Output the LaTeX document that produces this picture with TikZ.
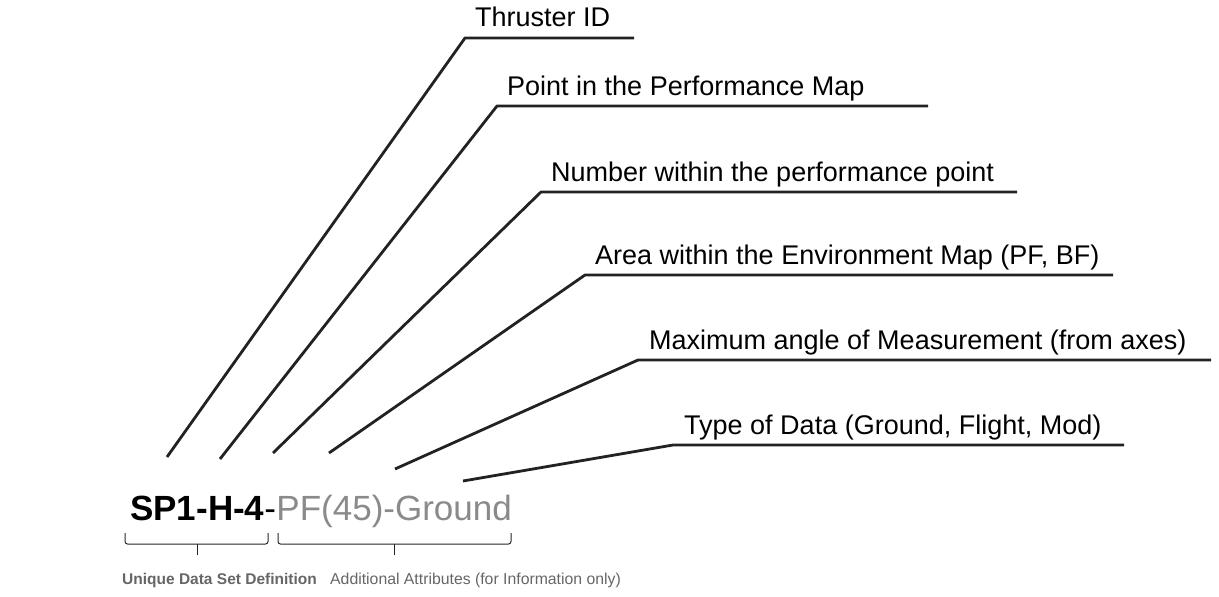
\documentclass[tikz,border=0pt]{standalone}
\usepackage{fontspec}
\setmainfont{Liberation Sans}
\definecolor{ink}{HTML}{222222}
\definecolor{attr}{HTML}{8A8A8A}
\definecolor{cap}{HTML}{666666}

\begin{document}
\begin{tikzpicture}[x=1pt,y=-1pt,
  leader/.style={draw=ink,line width=2.8pt},
  lbl/.style={anchor=base west,inner sep=0pt,font=\fontsize{27}{31}\selectfont,text=black},
  brace/.style={draw=black!85,line width=1pt,rounded corners=2.5pt},
  note/.style={anchor=base west,inner sep=0pt,font=\fontsize{15.8}{18}\selectfont,text=cap}]
\useasboundingbox (0,0) rectangle (1219,597);

% identifier string
\node[anchor=base west,inner sep=0pt,font=\fontsize{35}{40}\selectfont] (key) at (130,520) {\textbf{SP1-H-4}-};
\node[anchor=base west,inner sep=0pt,font=\fontsize{35}{40}\selectfont,text=attr] (attr) at (key.base east) {PF(45)-Ground};

% free ends of the leaders, just above the identifier
\coordinate (s1) at (167,457);
\coordinate (s2) at (220,459);
\coordinate (s3) at (273,453);
\coordinate (s4) at (329,453);
\coordinate (s5) at (395,469);
\coordinate (s6) at (463,481);

% elbows and right ends of the underlines
\coordinate (k1) at (465,38);  \coordinate (r1) at (634,38);
\coordinate (k2) at (497,106); \coordinate (r2) at (928,106);
\coordinate (k3) at (541,192); \coordinate (r3) at (1017,192);
\coordinate (k4) at (585,275); \coordinate (r4) at (1113,275);
\coordinate (k5) at (638,360); \coordinate (r5) at (1211,360);
\coordinate (k6) at (673,445); \coordinate (r6) at (1124,445);

% labels
\node[lbl] (l1) at (475,27)  {Thruster ID};
\node[lbl] (l2) at (507,95)  {Point in the Performance Map};
\node[lbl] (l3) at (551,181) {Number within the performance point};
\node[lbl] (l4) at (595,264) {Area within the Environment Map (PF, BF)};
\node[lbl] (l5) at (649,349) {Maximum angle of Measurement (from axes)};
\node[lbl] (l6) at (684,434) {Type of Data (Ground, Flight, Mod)};

% leaders
\foreach \i in {1,...,6}
  \draw[leader,line join=round] (s\i) -- (k\i) -- (r\i);

% braces under the two parts
\draw[brace] (125,533) -- (125,544) -- (268,544) -- (268,533);
\draw[brace] (197,544) -- (197,555);
\draw[brace] (278,533) -- (278,544) -- (511,544) -- (511,533);
\draw[brace] (394,544) -- (394,555);

% captions
\node[note,font=\fontsize{15.5}{18}\selectfont\bfseries] (c1) at (122,584) {Unique Data Set Definition};
\node[note] (c2) at (330,584) {Additional Attributes (for Information only)};
\end{tikzpicture}
\end{document}
